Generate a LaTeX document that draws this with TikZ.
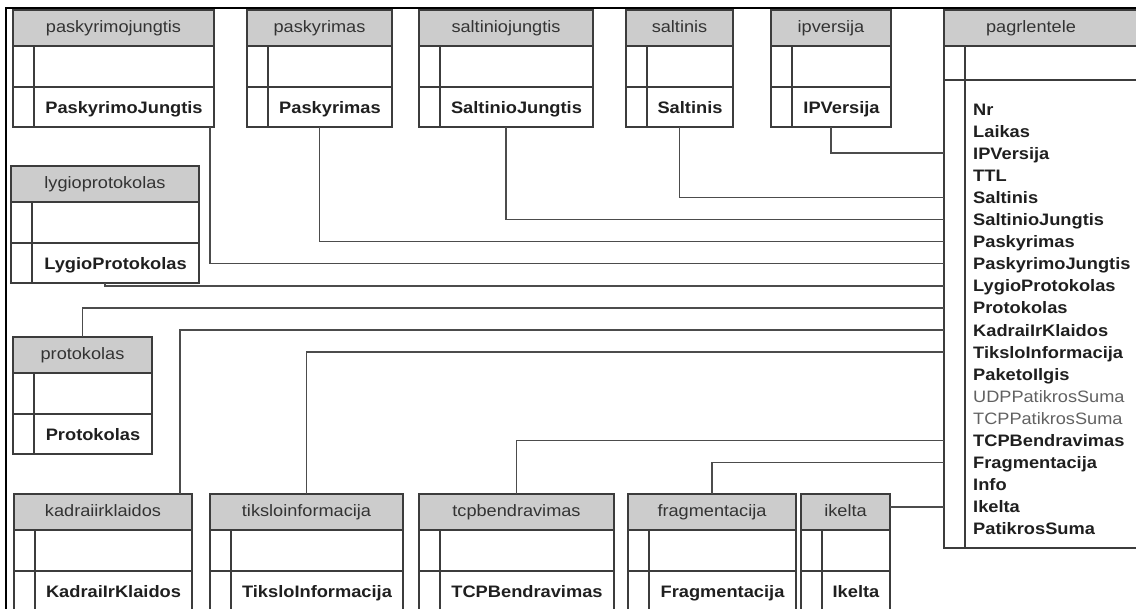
\documentclass[tikz,border=0pt]{standalone}
\usepackage{fontspec}
\setmainfont{Liberation Sans}[FakeStretch=1.1]
\usepackage{tikz}
\usetikzlibrary{positioning}
\definecolor{hdgray}{RGB}{204,204,204}
\definecolor{edge}{RGB}{60,60,60}

\newcommand{\dbtable}[6]{%
  \node[tblhead, minimum width=#4pt, anchor=north west] (#1) at (#2,#3) {#5};
  \node[tblrow, minimum width=#4pt, minimum height=41pt, below=0pt of #1] (#1-key) {};
  \node[tblrow, minimum width=#4pt, minimum height=40pt, below=0pt of #1-key] (#1-fld) {};
  \node[fieldtxt] (#1-txt) at ([xshift=10.5pt]#1-fld.center) {#6};
  \draw[edge, line width=1.4pt] ([xshift=21pt]#1-key.north west) -- ([xshift=21pt]#1-fld.south west);
}

\begin{document}
\begin{tikzpicture}[x=1pt, y=-1pt,
  tblhead/.style={rectangle, draw=edge, fill=hdgray, line width=1.4pt, outer sep=0pt, inner sep=0pt, minimum height=36pt, text=black!80, text height=12pt, text depth=3.5pt, font=\fontsize{16.5}{20}\selectfont},
  tblrow/.style={rectangle, draw=edge, line width=1.4pt, outer sep=0pt, inner sep=0pt},
  fieldtxt/.style={inner sep=0pt, text=black!88, text height=12.2pt, text depth=0pt, font=\fontsize{16.6}{20}\selectfont\bfseries},
  pgbold/.style={text=black!88, font=\fontsize{16.6}{20}\selectfont\bfseries},
  pgplain/.style={text=black!62, font=\fontsize{16.5}{20}\selectfont},
  pgfield/.style={inner sep=0pt, text height=12.2pt, text depth=0pt, anchor=west},
  conn/.style={draw=black!70, line width=1.5pt}]
\useasboundingbox (0,0) rectangle (1136,609);
\draw[black, line width=2.2pt] (6,609) -- (6,8) -- (1136,8);

\dbtable{pj}{13}{10}{201}{paskyrimojungtis}{PaskyrimoJungtis}
\dbtable{pa}{247}{10}{145}{paskyrimas}{Paskyrimas}
\dbtable{sj}{419}{10}{174}{saltiniojungtis}{SaltinioJungtis}
\dbtable{sa}{626}{10}{107}{saltinis}{Saltinis}
\dbtable{ip}{771}{10}{120}{ipversija}{IPVersija}
\dbtable{lp}{11}{166}{188}{lygioprotokolas}{LygioProtokolas}
\dbtable{pr}{13}{337}{139}{protokolas}{Protokolas}
\dbtable{kk}{14}{494}{178}{kadraiirklaidos}{KadraiIrKlaidos}
\dbtable{ti}{210}{494}{193}{tiksloinformacija}{TiksloInformacija}
\dbtable{tc}{419}{494}{195}{tcpbendravimas}{TCPBendravimas}
\dbtable{fr}{628}{494}{168}{fragmentacija}{Fragmentacija}
\dbtable{ik}{801}{494}{89}{ikelta}{Ikelta}

\node[tblhead, minimum width=206pt, anchor=north west] (pg) at (944,10) {};
\node[tblhead, draw=none, fill=none] (pg-title) at (1031,28) {pagrlentele};
\node[tblrow, minimum width=206pt, minimum height=34pt, below=0pt of pg] (pg-key) {};
\node[tblrow, minimum width=206pt, minimum height=468pt, below=0pt of pg-key] (pg-fld) {};
\draw[edge, line width=1.4pt] ([xshift=21pt]pg-key.north west) -- ([xshift=21pt]pg-fld.south west);
\foreach \fname/\fser [count=\i] in {Nr/pgbold, Laikas/pgbold, IPVersija/pgbold, TTL/pgbold, Saltinis/pgbold,
  SaltinioJungtis/pgbold, Paskyrimas/pgbold, PaskyrimoJungtis/pgbold, LygioProtokolas/pgbold, Protokolas/pgbold,
  KadraiIrKlaidos/pgbold, TiksloInformacija/pgbold, PaketoIlgis/pgbold, UDPPatikrosSuma/pgplain, TCPPatikrosSuma/pgplain,
  TCPBendravimas/pgbold, Fragmentacija/pgbold, Info/pgbold, Ikelta/pgbold, PatikrosSuma/pgbold}
{
  \node[pgfield, \fser] (f\i) at (973, {109+22.1*(\i-1)}) {\fname};
  \coordinate (r\i) at (pg-fld.west |- f\i.west);
}

\draw[conn] (ip-fld.south) |- (r3);
\draw[conn] (sa-fld.south) |- (r5);
\draw[conn] (sj-fld.south) |- (r6);
\draw[conn] (pa-fld.south) |- (r7);
\draw[conn] ([xshift=-4pt]pj-fld.south east) |- (r8);
\draw[conn] (lp-fld.south) |- (r9);
\draw[conn] (pr.north) |- (r10);
\draw[conn] ([xshift=-12pt]kk.north east) |- (r11);
\draw[conn] (ti.north) |- (r12);
\draw[conn] (tc.north) |- (r16);
\draw[conn] (fr.north) |- (r17);
\draw[conn] (ik.east |- r19) -- (r19);
\end{tikzpicture}
\end{document}
